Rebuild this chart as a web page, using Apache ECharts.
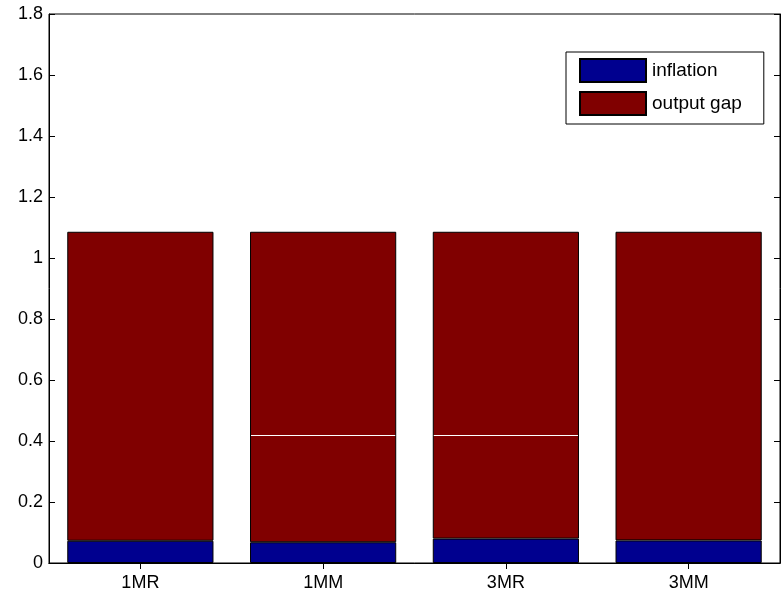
<!DOCTYPE html>
<html><head><meta charset="utf-8">
<script src="https://cdn.jsdelivr.net/npm/echarts@6/dist/echarts.min.js"></script>
<style>html,body{margin:0;padding:0;background:#fff}#c{width:781px;height:596px}</style>
</head><body><div id="c"></div>
<script>
var categories = ['1MR', '1MM', '3MR', '3MM'];
var inflation = [0.073, 0.068, 0.080, 0.074];
var outputGap = [1.013, 1.018, 1.006, 1.012];
var splitMarks = [[1, 0.421], [2, 0.421]];

var font = 'Liberation Sans, Arial, sans-serif';
var chart = echarts.init(document.getElementById('c'), null, {renderer: 'canvas'});
chart.setOption({
  animation: false,
  grid: {left: 49, right: 1, top: 14, bottom: 33, show: true, borderColor: '#000', borderWidth: 1, backgroundColor: 'transparent'},
  legend: {
    data: ['inflation', 'output gap'],
    orient: 'vertical', left: 566, top: 52,
    itemWidth: 66, itemHeight: 23, itemGap: 8,
    padding: [6, 22, 8, 13],
    borderColor: '#000', borderWidth: 1, backgroundColor: '#fff',
    textStyle: {fontFamily: font, fontSize: 19, lineHeight: 23, color: '#000', padding: [0, 0, 0, 1]},
    icon: 'rect'
  },
  xAxis: [{
    type: 'category', data: categories, position: 'bottom',
    axisLine: {show: true, lineStyle: {color: '#000'}},
    axisTick: {show: true, inside: true, alignWithLabel: true, length: 6, lineStyle: {color: '#000'}},
    axisLabel: {fontFamily: font, fontSize: 18, color: '#000', margin: 11}
  }, {
    type: 'category', data: categories, position: 'top',
    axisLine: {show: true, lineStyle: {color: '#000'}},
    axisTick: {show: true, inside: true, alignWithLabel: true, length: 6, lineStyle: {color: '#000'}},
    axisLabel: {show: false}
  }],
  yAxis: [{
    type: 'value', min: 0, max: 1.8, interval: 0.2,
    axisLine: {show: true, lineStyle: {color: '#000'}},
    axisTick: {show: true, inside: true, length: 6, lineStyle: {color: '#000'}},
    splitLine: {show: false},
    axisLabel: {fontFamily: font, fontSize: 18, color: '#000', margin: 6,
      formatter: function (v) { return String(Math.round(v * 10) / 10); }}
  }, {
    type: 'value', min: 0, max: 1.8, interval: 0.2, position: 'right',
    axisLine: {show: true, lineStyle: {color: '#000'}},
    axisTick: {show: true, inside: true, length: 6, lineStyle: {color: '#000'}},
    splitLine: {show: false}, axisLabel: {show: false}
  }],
  series: [{
    name: 'inflation', type: 'bar', stack: 's', data: inflation, barWidth: '80%',
    itemStyle: {color: '#00008F', borderColor: '#000', borderWidth: 1}
  }, {
    name: 'output gap', type: 'bar', stack: 's', data: outputGap, barWidth: '80%',
    itemStyle: {color: '#800000', borderColor: '#000', borderWidth: 1}
  }, {
    type: 'custom', data: splitMarks, z: 10, silent: true,
    renderItem: function (params, api) {
      var p = api.coord([api.value(0), api.value(1)]);
      var w = api.size([1, 0])[0] * 0.8;
      return {type: 'line', shape: {x1: p[0] - w / 2 + 1, y1: Math.round(p[1]) + 0.5, x2: p[0] + w / 2 - 1, y2: Math.round(p[1]) + 0.5},
        style: {stroke: '#fff', lineWidth: 1}};
    }
  }]
});
</script></body></html>
